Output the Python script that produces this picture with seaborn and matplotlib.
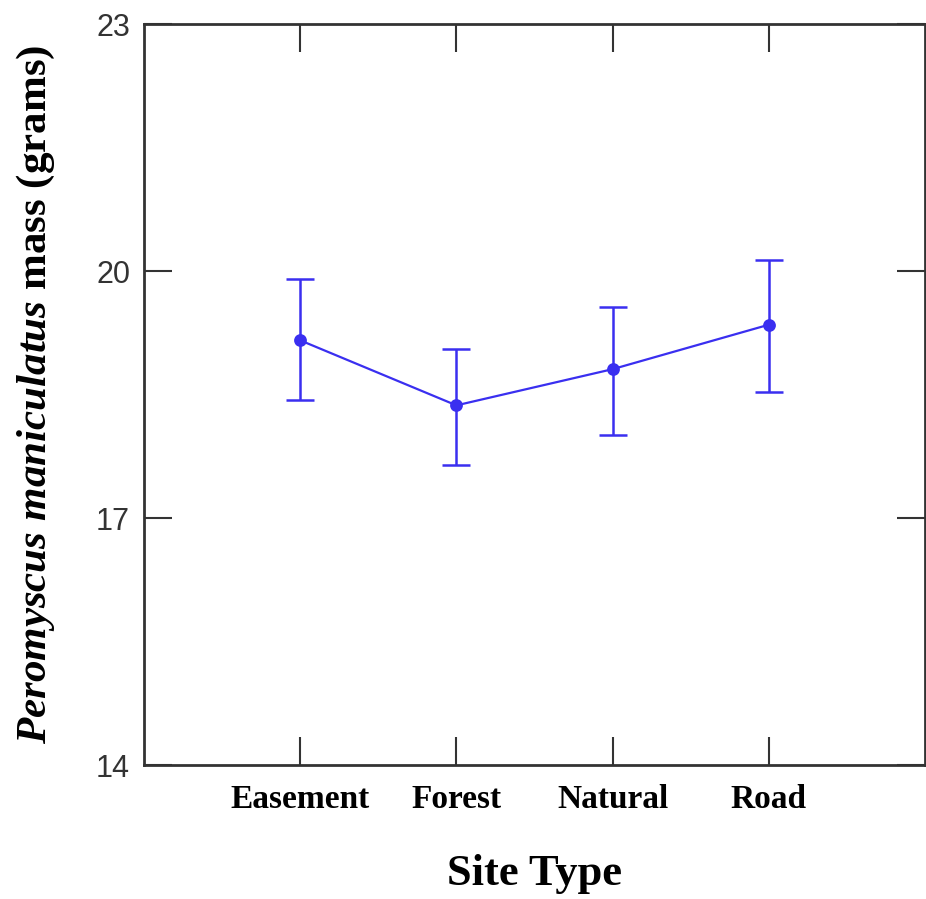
import numpy as np
import pandas as pd
import matplotlib
matplotlib.use('Agg')
import matplotlib.pyplot as plt
import seaborn as sns

## values
sites = ['Easement', 'Forest', 'Natural', 'Road']
mean_mass = [19.16, 18.37, 18.81, 19.35]
err_low = [18.43, 17.65, 18.01, 18.53]
err_high = [19.90, 19.06, 19.56, 20.14]
yticks = [14, 17, 20, 23]

df = pd.DataFrame({'site': sites, 'mass': mean_mass})

sns.set_style('white')
plt.rcParams['mathtext.fontset'] = 'custom'
plt.rcParams['mathtext.it'] = 'Liberation Serif:italic:bold'
plt.rcParams['mathtext.rm'] = 'Liberation Serif:bold'

blue = '#3a2ff0'
dark = '#333333'

fig = plt.figure(figsize=(9.26, 8.99), dpi=100)
ax = fig.add_axes([0.1555, 0.149, 0.8435, 0.824])

sns.pointplot(data=df, x='site', y='mass', color=blue, errorbar=None,
              markers='o', markersize=8, linewidth=1.6, ax=ax)
yerr = [np.array(mean_mass) - np.array(err_low), np.array(err_high) - np.array(mean_mass)]
ax.errorbar(np.arange(len(sites)), mean_mass, yerr=yerr, fmt='none',
            ecolor=blue, elinewidth=1.8, capsize=10, capthick=1.8)

ax.set_xlim(-1, 4)
ax.set_ylim(14, 23)
ax.set_yticks(yticks)
ax.set_yticklabels([str(t) for t in yticks], family='Liberation Sans', fontsize=22, color=dark)
ax.set_xticks(range(len(sites)))
ax.set_xticklabels(sites, family='Liberation Serif', fontweight='bold', fontsize=24, color='black')

ax.tick_params(axis='both', direction='in', length=20, width=1.5, color=dark,
               bottom=True, left=True, top=True, right=True,
               labeltop=False, labelright=False)
ax.tick_params(axis='x', pad=14)
ax.tick_params(axis='y', pad=10)

for s in ax.spines.values():
    s.set_color(dark)
    s.set_linewidth(2)

ax.set_xlabel('Site Type', family='Liberation Serif', fontweight='bold', fontsize=32,
              labelpad=28, color='black')
ax.set_ylabel(r'$\mathit{Peromyscus\ maniculatus}$ mass (grams)', family='Liberation Serif',
              fontweight='bold', fontsize=31, labelpad=28, color='black')

fig.savefig('out.png', dpi=100)
